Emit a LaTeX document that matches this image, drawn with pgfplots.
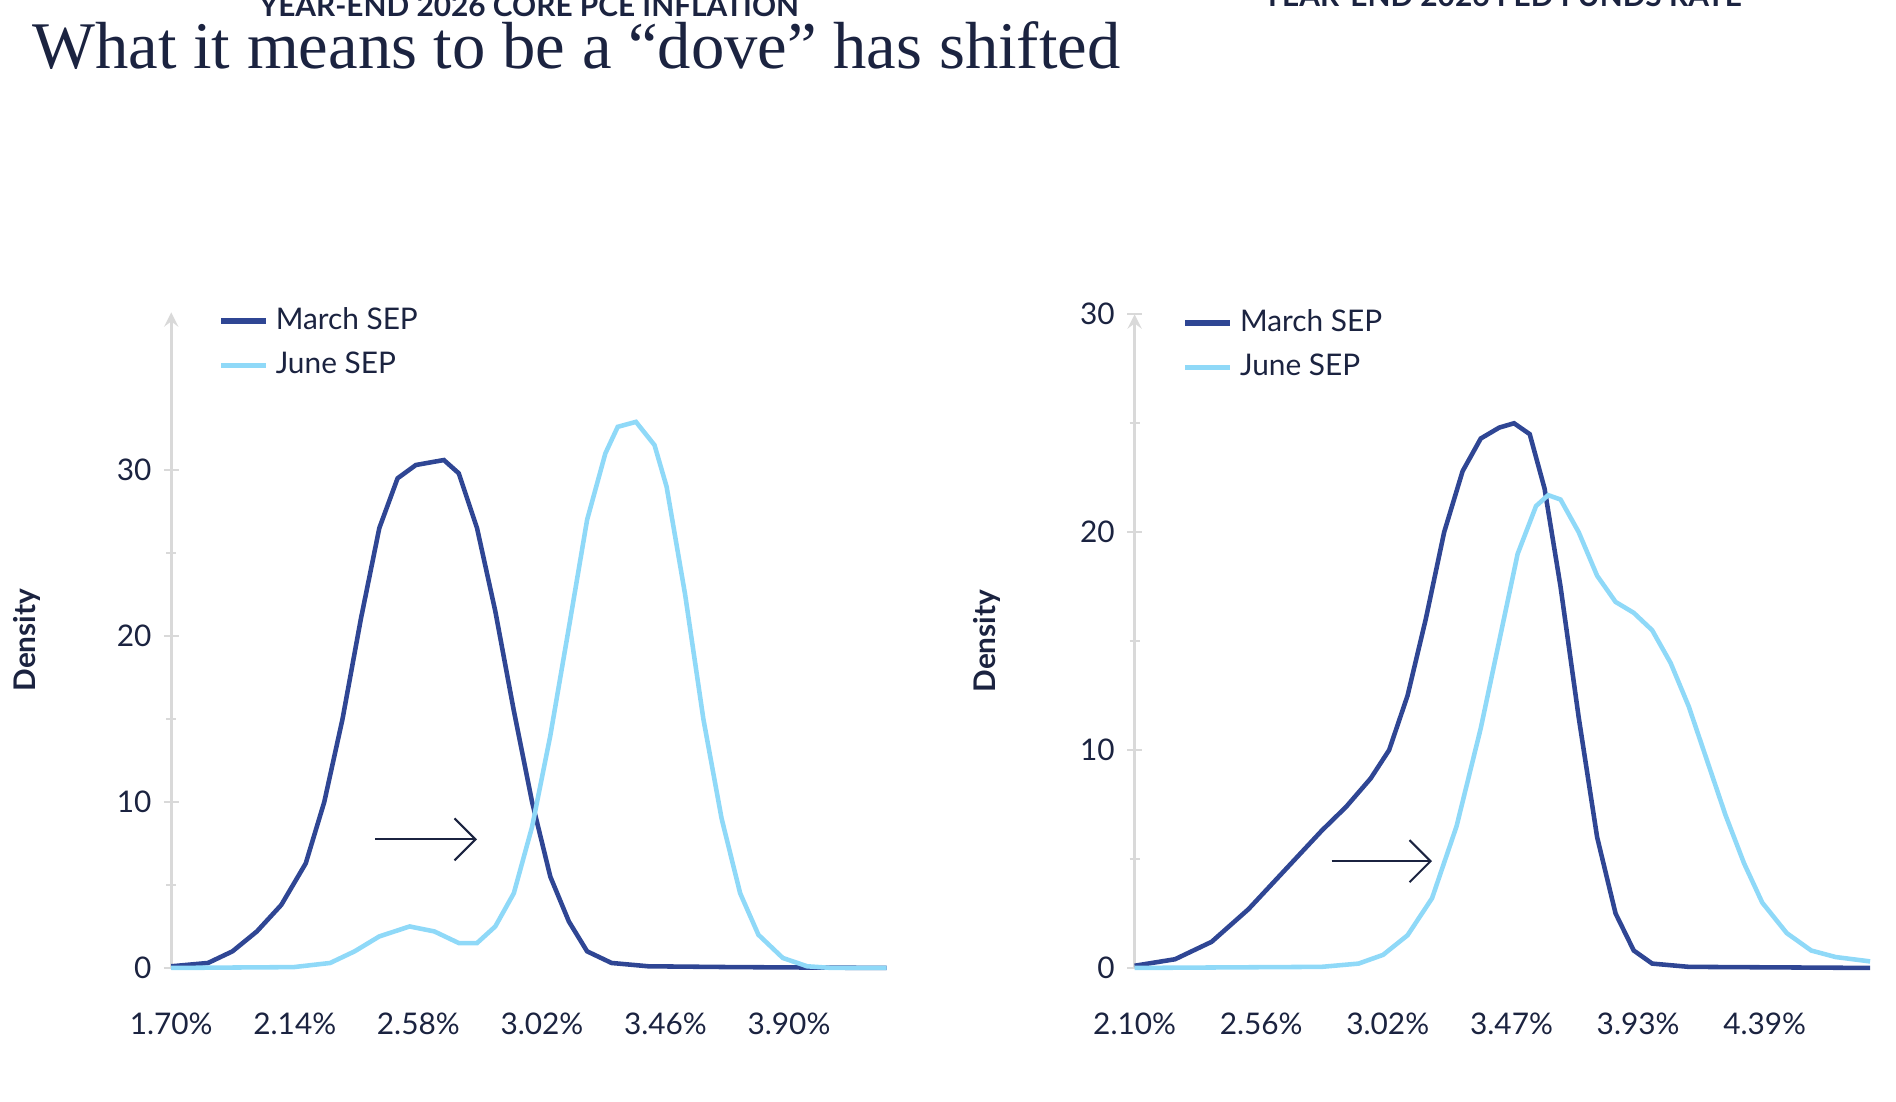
\documentclass[border=0pt]{standalone}
\usepackage{pgfplots}
\pgfplotsset{compat=1.18}
\usetikzlibrary{arrows.meta}
\usepackage{fontspec}
\setmainfont{Lato}
\newfontfamily\titlefont{Liberation Serif}
\definecolor{navy}{HTML}{1B2340}
\definecolor{march}{HTML}{2F4694}
\definecolor{june}{HTML}{8FD9F8}
\begin{document}
\begin{tikzpicture}
\path[use as bounding box] (0,0) rectangle (19,11.04);
\node[anchor=north west,text=navy,font=\titlefont\fontsize{19}{22}\selectfont] at (0.2,10.95) {What it means to be a “dove” has shifted};
\pgfplotsset{every axis/.style={
  scale only axis, axis lines=left, x axis line style={draw=none}, y axis line style={draw=black!15, line width=0.8pt},
  ymin=0, xtick style={draw=none}, ytick style={draw=black!15, line width=0.6pt},
  tick label style={font=\fontsize{8.5}{10}\selectfont, text=navy},
  ylabel={\textbf{Density}}, ylabel style={font=\fontsize{8.5}{10}\selectfont, text=navy, at={(-0.165,0.5)}},
  xticklabel={\pgfmathprintnumber[fixed,fixed zerofill,precision=2]{\tick}\%},
  /pgf/number format/assume math mode=true,
  xticklabel style={yshift=-0.25cm},
  legend style={draw=none, fill=none, font=\fontsize{8.5}{10}\selectfont, text=navy, anchor=north west, at={(0.05,1.03)}, row sep=1pt},
  legend cell align=left,
  legend image code/.code={\draw[#1, line width=1.6pt] (0cm,0cm) -- (0.45cm,0cm);},
  title style={font=\bfseries\fontsize{8.5}{10}\selectfont, text=navy},
  clip=false, enlargelimits=false}}
\begin{axis}[at={(1.716cm,1.34cm)}, width=7.17cm, height=6.57cm, xmin=1.70, xmax=4.248, ymax=39.5,
  xtick={1.70,2.14,2.58,3.02,3.46,3.90}, ytick={0,10,20,30}, minor ytick={5,15,25},
  title={YEAR-END 2026 CORE PCE INFLATION}, title style={at={(0.5,1.4)}}]
\addplot[march, line width=1.3pt] coordinates {(1.700,0.1)(1.831,0.3)(1.918,1)(2.005,2.2)(2.092,3.8)(2.179,6.3)(2.245,10)(2.310,15)(2.375,21)(2.441,26.5)(2.506,29.5)(2.571,30.3)(2.637,30.5)(2.671,30.6)(2.724,29.8)(2.789,26.5)(2.854,21.5)(2.920,15.5)(2.985,10)(3.050,5.5)(3.116,2.8)(3.181,1.0)(3.268,0.3)(3.399,0.1)(3.704,0.05)(4.248,0)};
\addlegendentry{March SEP}
\addplot[june, line width=1.3pt] coordinates {(1.700,0)(2.136,0.05)(2.266,0.3)(2.353,1)(2.441,1.9)(2.549,2.5)(2.637,2.2)(2.724,1.5)(2.789,1.5)(2.854,2.5)(2.920,4.5)(2.985,8.5)(3.050,14)(3.116,20.5)(3.181,27)(3.246,31)(3.290,32.6)(3.355,32.9)(3.421,31.5)(3.464,29)(3.530,22.5)(3.595,15)(3.660,9)(3.726,4.5)(3.791,2)(3.878,0.6)(3.965,0.1)(4.052,0)(4.248,0)};
\addlegendentry{June SEP}
\draw[-{Straight Barb[length=6pt,width=12pt]}, navy, line width=0.6pt] (axis cs:2.427,7.75) -- (axis cs:2.789,7.75);
\end{axis}
\begin{axis}[at={(11.37cm,1.34cm)}, width=7.37cm, height=6.55cm, xmin=2.10, xmax=4.773, ymax=30,
  xtick={2.10,2.56,3.02,3.47,3.93,4.39}, ytick={0,10,20,30}, minor ytick={5,15,25},
  title={YEAR-END 2026 FED FUNDS RATE}, title style={at={(0.5,1.42)}}]
\addplot[march, line width=1.3pt] coordinates {(2.100,0.1)(2.247,0.4)(2.380,1.2)(2.514,2.7)(2.647,4.5)(2.780,6.3)(2.869,7.4)(2.958,8.7)(3.025,10)(3.092,12.5)(3.158,16)(3.225,20)(3.292,22.8)(3.358,24.3)(3.425,24.8)(3.479,25)(3.536,24.5)(3.590,22)(3.648,17.5)(3.714,11.5)(3.781,6)(3.848,2.5)(3.914,0.8)(3.981,0.2)(4.114,0.05)(4.773,0)};
\addlegendentry{March SEP}
\addplot[june, line width=1.3pt] coordinates {(2.100,0)(2.780,0.05)(2.914,0.2)(3.003,0.6)(3.092,1.5)(3.181,3.2)(3.270,6.5)(3.358,11)(3.425,15)(3.492,19)(3.559,21.2)(3.603,21.7)(3.648,21.5)(3.714,20)(3.781,18)(3.848,16.8)(3.914,16.3)(3.981,15.5)(4.048,14)(4.114,12)(4.181,9.5)(4.248,7)(4.315,4.8)(4.381,3)(4.470,1.6)(4.559,0.8)(4.648,0.5)(4.773,0.3)};
\addlegendentry{June SEP}
\draw[-{Straight Barb[length=6pt,width=12pt]}, navy, line width=0.6pt] (axis cs:2.816,4.9) -- (axis cs:3.181,4.9);
\end{axis}
\end{tikzpicture}
\end{document}
